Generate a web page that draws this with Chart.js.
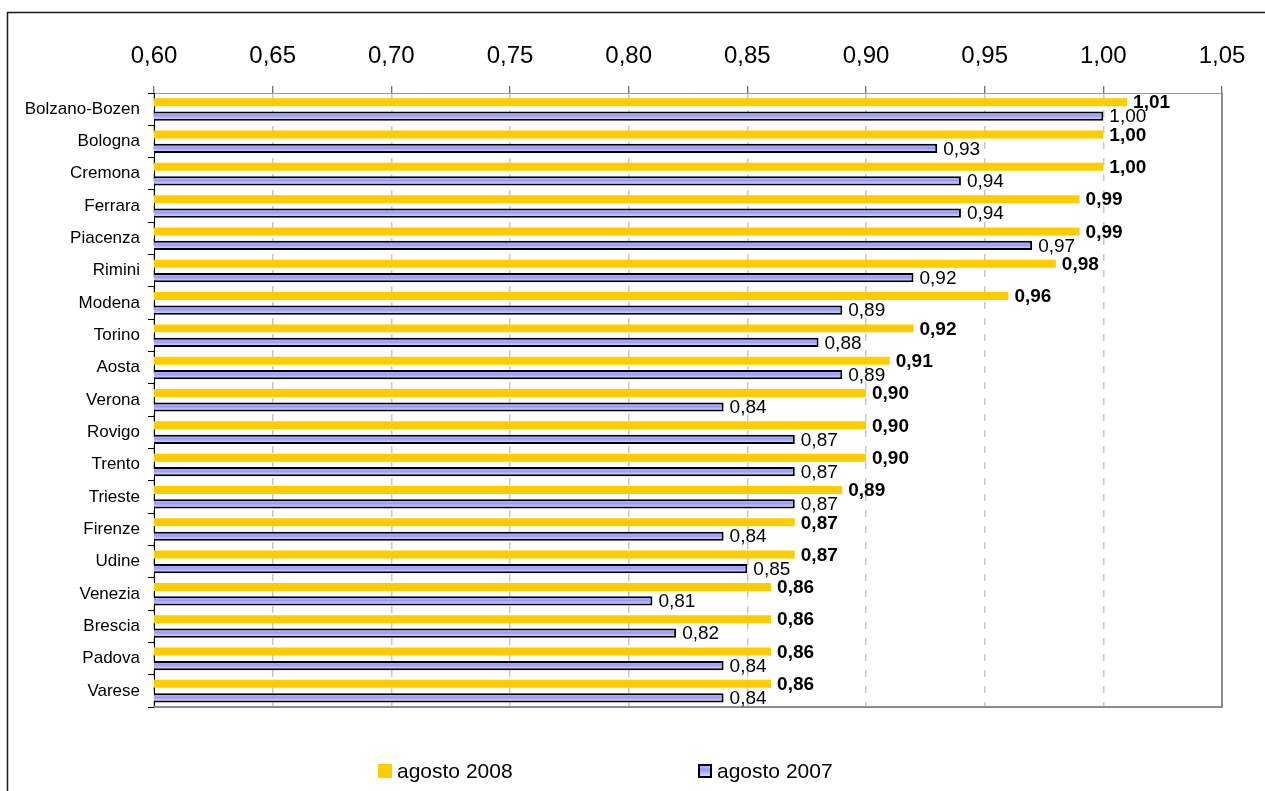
<!DOCTYPE html>
<html>
<head>
<meta charset="utf-8">
<title>agosto 2008 / agosto 2007</title>
<script src="https://cdn.jsdelivr.net/npm/chart.js@4"></script>
<style>
    html, body { margin: 0; padding: 0; background: #ffffff; }
    #wrap { width: 1265px; height: 791px; position: relative; }
</style>
</head>
<body>
<div id="wrap"><canvas id="cityChart"></canvas></div>
<script>
// Citta' ordinate per valore di agosto 2008
const cities = ['Bolzano-Bozen', 'Bologna', 'Cremona', 'Ferrara', 'Piacenza', 'Rimini', 'Modena',
    'Torino', 'Aosta', 'Verona', 'Rovigo', 'Trento', 'Trieste', 'Firenze', 'Udine', 'Venezia',
    'Brescia', 'Padova', 'Varese'];
const values2008 = [1.01, 1.00, 1.00, 0.99, 0.99, 0.98, 0.96, 0.92, 0.91, 0.90, 0.90, 0.90, 0.89,
    0.87, 0.87, 0.86, 0.86, 0.86, 0.86];
const values2007 = [1.00, 0.93, 0.94, 0.94, 0.97, 0.92, 0.89, 0.88, 0.89, 0.84, 0.87, 0.87, 0.87,
    0.84, 0.85, 0.81, 0.82, 0.84, 0.84];
const seriesNames = ['agosto 2008', 'agosto 2007'];
const axisMin = 0.60;
const axisMax = 1.05;
const axisStep = 0.05;

const FONT = '"Liberation Sans", Arial, sans-serif';
const YELLOW = '#ffcc00';

// Virgola decimale all'italiana
function formatComma(v) {
    return Number(v).toFixed(2).replace('.', ',');
}

// Sfumatura a bande orizzontali per le barre 2007
function lavenderGradient(ctx, top, height) {
    const g = ctx.createLinearGradient(0, top, 0, top + height);
    g.addColorStop(0, '#c4c4ff');
    g.addColorStop(0.45, '#9999ff');
    g.addColorStop(0.75, '#c8c8ff');
    g.addColorStop(1, '#f0f0ff');
    return g;
}

// Cornice esterna (solo lati sinistro e superiore visibili)
const outerFrame = {
    id: 'outerFrame',
    beforeDraw(chart) {
        const ctx = chart.ctx;
        ctx.save();
        ctx.strokeStyle = '#1a1a1a';
        ctx.lineWidth = 1.5;
        ctx.beginPath();
        ctx.moveTo(7.5, chart.height + 2);
        ctx.lineTo(7.5, 12.5);
        ctx.lineTo(chart.width + 2, 12.5);
        ctx.stroke();
        ctx.restore();
    },
    afterDraw(chart) {
        // bordo grigio dell'area del grafico, lato destro e inferiore
        const a = chart.chartArea;
        const ctx = chart.ctx;
        ctx.save();
        ctx.strokeStyle = '#8c8c8c';
        ctx.lineWidth = 2;
        ctx.beginPath();
        ctx.moveTo(a.left, a.bottom);
        ctx.lineTo(a.right, a.bottom);
        ctx.lineTo(a.right, a.top);
        ctx.stroke();
        ctx.restore();
    }
};

// Le barre 2007 hanno un riempimento sfumato calcolato per ogni barra
const stripedBars = {
    id: 'stripedBars',
    beforeDatasetDraw(chart, args) {
        if (args.index !== 1) return;
        const ctx = chart.ctx;
        const a = chart.chartArea;
        ctx.save();
        ctx.beginPath();
        ctx.rect(a.left, a.top, a.right - a.left, a.bottom - a.top);
        ctx.clip();
        args.meta.data.forEach(bar => {
            const top = bar.y - bar.height / 2;
            const own = bar.options;
            bar.options = Object.assign({}, own, { backgroundColor: lavenderGradient(ctx, top, bar.height) });
            bar.draw(ctx, a);
            bar.options = own;
        });
        ctx.restore();
        return false;
    }
};

// Etichette con i valori a destra di ogni barra
const valueLabels = {
    id: 'valueLabels',
    afterDraw(chart) {
        const ctx = chart.ctx;
        ctx.save();
        ctx.textAlign = 'left';
        ctx.textBaseline = 'middle';
        ctx.fillStyle = '#000000';
        chart.data.datasets.forEach((ds, di) => {
            const meta = chart.getDatasetMeta(di);
            ctx.font = (di === 0 ? 'bold ' : '') + '19px ' + FONT;
            meta.data.forEach((bar, i) => {
                ctx.fillText(formatComma(ds.data[i]), bar.x + 6, bar.y + 1);
            });
        });
        ctx.restore();
    }
};

// Legenda in basso, disegnata a mano per rispettare le distanze
const bottomLegend = {
    id: 'bottomLegend',
    afterDraw(chart) {
        const ctx = chart.ctx;
        const slots = [378, 698];
        const boxTop = 764;
        ctx.save();
        ctx.font = '21px ' + FONT;
        ctx.textBaseline = 'middle';
        ctx.fillStyle = '#000000';
        chart.data.datasets.forEach((ds, di) => {
            const x = slots[di];
            if (di === 0) {
                ctx.fillStyle = YELLOW;
                ctx.fillRect(x, boxTop, 14, 14);
            } else {
                ctx.fillStyle = lavenderGradient(ctx, boxTop, 14);
                ctx.fillRect(x, boxTop, 14, 14);
                ctx.strokeStyle = '#000000';
                ctx.lineWidth = 2;
                ctx.strokeRect(x + 1, boxTop + 1, 12, 12);
            }
            ctx.fillStyle = '#000000';
            ctx.fillText(ds.label, x + 19, boxTop + 8);
        });
        ctx.restore();
    }
};

const ctx = document.getElementById('cityChart').getContext('2d');

new Chart(ctx, {
    type: 'bar',
    data: {
        labels: cities,
        datasets: [
            {
                label: seriesNames[0],
                data: values2008,
                backgroundColor: YELLOW,
                borderWidth: 0,
                barPercentage: 0.57
            },
            {
                label: seriesNames[1],
                data: values2007,
                backgroundColor: '#9999ff',
                borderColor: '#000000',
                borderWidth: 2,
                borderSkipped: false,
                barPercentage: 0.66
            }
        ]
    },
    options: {
        indexAxis: 'y',
        responsive: true,
        maintainAspectRatio: false,
        animation: false,
        categoryPercentage: 0.865,
        layout: {
            padding: { left: 0, top: 0, right: 43, bottom: 84 }
        },
        plugins: {
            legend: { display: false },
            tooltip: { enabled: false }
        },
        scales: {
            x: {
                position: 'top',
                min: axisMin,
                max: axisMax,
                afterFit: function(scale) {
                    scale.height = 93;
                },
                ticks: {
                    stepSize: axisStep,
                    padding: 15,
                    color: '#000000',
                    font: { family: FONT, size: 24 },
                    callback: function(value) {
                        return formatComma(value);
                    }
                },
                grid: {
                    color: '#c8c8c8',
                    lineWidth: 1.5,
                    tickColor: '#444444',
                    tickWidth: 1,
                    tickLength: 7,
                    tickBorderDash: []
                },
                border: {
                    display: true,
                    color: '#999999',
                    width: 1,
                    dash: [7, 9]
                }
            },
            y: {
                afterFit: function(scale) {
                    scale.width = 154;
                },
                ticks: {
                    padding: 8,
                    color: '#000000',
                    font: { family: FONT, size: 17 }
                },
                grid: {
                    offset: true,
                    drawOnChartArea: false,
                    tickLength: 6,
                    tickColor: '#000000'
                },
                border: {
                    display: true,
                    color: '#000000',
                    width: 1
                }
            }
        }
    },
    plugins: [outerFrame, stripedBars, valueLabels, bottomLegend]
});
</script>
</body>
</html>
